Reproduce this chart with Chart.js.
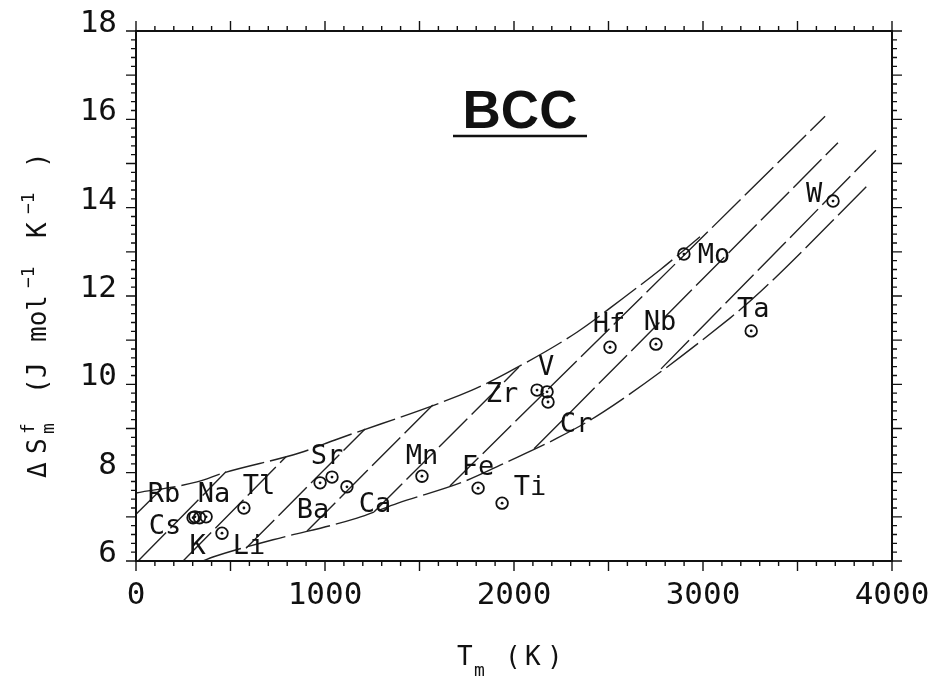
<!DOCTYPE html>
<html>
<head>
<meta charset="utf-8">
<script src="https://cdn.jsdelivr.net/npm/chart.js@4.4.1/dist/chart.umd.min.js"></script>
<style>
html, body { margin: 0; padding: 0; background: #fff; }
#wrap { width: 937px; height: 677px; }
</style>
</head>
<body>
<div id="wrap"><canvas id="grafico" width="937" height="677"></canvas></div>
<script>
// BCC metals: melting point Tm (K) and entropy of fusion (J mol-1 K-1)
const elementos = ['Cs', 'Rb', 'K', 'Na', 'Li', 'Tl', 'Ba', 'Sr', 'Ca', 'Mn', 'Fe', 'Ti', 'Zr', 'V', 'Cr', 'Hf', 'Nb', 'Mo', 'Ta', 'W'];
const tm = [302, 312, 336, 371, 455, 571, 974, 1037, 1116, 1513, 1810, 1937, 2122, 2175, 2180, 2508, 2751, 2899, 3255, 3688];
const entropia = [6.98, 7.0, 6.98, 7.0, 6.63, 7.2, 7.77, 7.9, 7.68, 7.92, 7.65, 7.31, 9.87, 9.83, 9.6, 10.84, 10.91, 12.95, 11.21, 14.15];

// upper and lower bounding curves
const curvaSupT = [0, 323, 460, 868, 1053, 1778, 1963, 2333, 2577, 2772, 2984];
const curvaSupS = [7.54, 7.79, 7.99, 8.45, 8.74, 9.87, 10.26, 11.18, 11.95, 12.59, 13.34];
const curvaInfT = [354, 407, 725, 1169, 1386, 1730, 1952, 2228, 2471, 3143, 3302, 3873];
const curvaInfS = [6.0, 6.09, 6.48, 6.97, 7.31, 7.79, 8.22, 8.78, 9.37, 11.5, 12.09, 14.51];

// straight guide lines between the curves (start and end)
const guiaIniT = [0, 11, 249, 582, 905, 1259, 1661, 2106, 2778];
const guiaIniS = [7.06, 6.0, 6.0, 6.29, 6.68, 7.11, 7.7, 8.54, 10.35];
const guiaFimT = [138, 476, 794, 1212, 1577, 2026, 3646, 3714, 3915];
const guiaFimS = [7.64, 8.02, 8.36, 8.99, 9.56, 10.39, 16.07, 15.47, 15.3];

// label offsets in pixels from each point
const deslocamentos = {
  Cs: [-28, 6], Rb: [-31, -25], K: [-2, 26], Na: [8, -25], Li: [27, 11], Tl: [15, -24],
  Ba: [-7, 25], Sr: [-5, -23], Ca: [28, 15], Mn: [0, -22], Fe: [0, -23], Ti: [28, -18],
  Zr: [-35, 2], V: [-1, -27], Cr: [28, 20], Hf: [-1, -25], Nb: [4, -24], Mo: [30, -1],
  Ta: [2, -24], W: [-19, -9]
};

const mono = 'DejaVu Sans Mono';
const tinta = '#111';

const pontos = tm.map((t, i) => ({ x: t, y: entropia[i] }));
const linhaTracejada = (dados) => ({
  data: dados,
  showLine: true,
  pointRadius: 0,
  borderColor: '#222',
  borderWidth: 1.4,
  borderDash: [40, 6],
  order: 1
});

const datasets = [
  {
    data: pontos,
    pointStyle: 'circle',
    pointRadius: 5.8,
    pointBorderWidth: 1.8,
    pointBorderColor: tinta,
    pointBackgroundColor: 'rgba(0,0,0,0)',
    order: 0
  },
  {
    data: pontos,
    pointRadius: 1.4,
    pointBorderWidth: 0,
    pointBackgroundColor: tinta,
    order: 0
  },
  Object.assign(linhaTracejada(curvaSupT.map((t, i) => ({ x: t, y: curvaSupS[i] }))), { cubicInterpolationMode: 'monotone' }),
  Object.assign(linhaTracejada(curvaInfT.map((t, i) => ({ x: t, y: curvaInfS[i] }))), { cubicInterpolationMode: 'monotone' })
];
guiaIniT.forEach((t, i) => {
  datasets.push(linhaTracejada([{ x: t, y: guiaIniS[i] }, { x: guiaFimT[i], y: guiaFimS[i] }]));
});

const desenhos = {
  id: 'desenhos',
  afterDraw(chart) {
    const { ctx, chartArea: a, scales: { x, y } } = chart;
    ctx.save();
    ctx.strokeStyle = tinta;
    ctx.fillStyle = tinta;

    // frame
    ctx.lineWidth = 2;
    ctx.strokeRect(a.left, a.top, a.right - a.left, a.bottom - a.top);

    // tick marks on all four sides, pointing out
    ctx.lineWidth = 1.4;
    ctx.beginPath();
    for (let t = 0; t <= 4000; t += 100) {
      const px = x.getPixelForValue(t);
      const len = t % 500 === 0 ? 10 : 5;
      ctx.moveTo(px, a.bottom); ctx.lineTo(px, a.bottom + len);
      ctx.moveTo(px, a.top); ctx.lineTo(px, a.top - len);
    }
    for (let i = 0; i <= 60; i++) {
      const py = y.getPixelForValue(6 + i * 0.2);
      const len = i % 5 === 0 ? 10 : 5;
      ctx.moveTo(a.left, py); ctx.lineTo(a.left - len, py);
      ctx.moveTo(a.right, py); ctx.lineTo(a.right + len, py);
    }
    ctx.stroke();

    // element labels
    const meta = chart.getDatasetMeta(0);
    ctx.font = '27px "' + mono + '"';
    ctx.textAlign = 'center';
    ctx.textBaseline = 'alphabetic';
    elementos.forEach((el, i) => {
      const p = meta.data[i];
      const d = deslocamentos[el];
      ctx.fillText(el, p.x + d[0], p.y + d[1] + 10);
    });

    // title
    ctx.font = 'bold 53px "Liberation Sans"';
    ctx.fillText('BCC', 520, 128);
    ctx.lineWidth = 2.5;
    ctx.beginPath();
    ctx.moveTo(453, 136); ctx.lineTo(587, 136);
    ctx.stroke();

    // x title
    ctx.textAlign = 'left';
    ctx.font = '26px "' + mono + '"';
    ctx.fillText('T', 457, 665);
    ctx.fillText('(', 505, 665);
    ctx.fillText('K', 525, 665);
    ctx.fillText(')', 547, 665);
    ctx.font = '18px "' + mono + '"';
    ctx.fillText('m', 474, 676);

    // y title, rotated
    ctx.translate(46, 478);
    ctx.rotate(-Math.PI / 2);
    const pecas = [
      ['\u0394', 0, 0, 26], ['S', 24, 0, 26], ['f', 44, -12, 18], ['m', 44, 8, 18],
      ['(', 84, 0, 26], ['J', 100, 0, 26], ['mol', 136, 0, 26], ['\u22121', 190, -12, 18],
      ['K', 240, 0, 26], ['\u22121', 264, -12, 18], [')', 310, 0, 26]
    ];
    pecas.forEach(([txt, u, v, tam]) => {
      ctx.font = tam + 'px "' + mono + '"';
      ctx.fillText(txt, u, v);
    });
    ctx.restore();
  }
};

new Chart(document.getElementById('grafico'), {
  type: 'scatter',
  data: { datasets: datasets },
  options: {
    responsive: false,
    animation: false,
    events: [],
    layout: { padding: { top: 31, right: 45, left: 0, bottom: 0 } },
    plugins: { legend: { display: false }, tooltip: { enabled: false } },
    scales: {
      x: {
        type: 'linear', min: 0, max: 4000,
        afterFit: (s) => { s.height = 116; s.paddingLeft = 0; s.paddingRight = 0; },
        grid: { display: false, drawTicks: false },
        border: { display: false },
        ticks: { stepSize: 1000, color: tinta, font: { family: mono, size: 31 }, padding: 16, maxRotation: 0, callback: (v) => String(v) }
      },
      y: {
        type: 'linear', min: 6, max: 18,
        afterFit: (s) => { s.width = 136; s.paddingTop = 0; s.paddingBottom = 0; },
        grid: { display: false, drawTicks: false },
        border: { display: false },
        ticks: { stepSize: 2, color: tinta, font: { family: mono, size: 31 }, padding: 19, labelOffset: -7, callback: (v) => String(v) }
      }
    }
  },
  plugins: [desenhos]
});
</script>
</body>
</html>
